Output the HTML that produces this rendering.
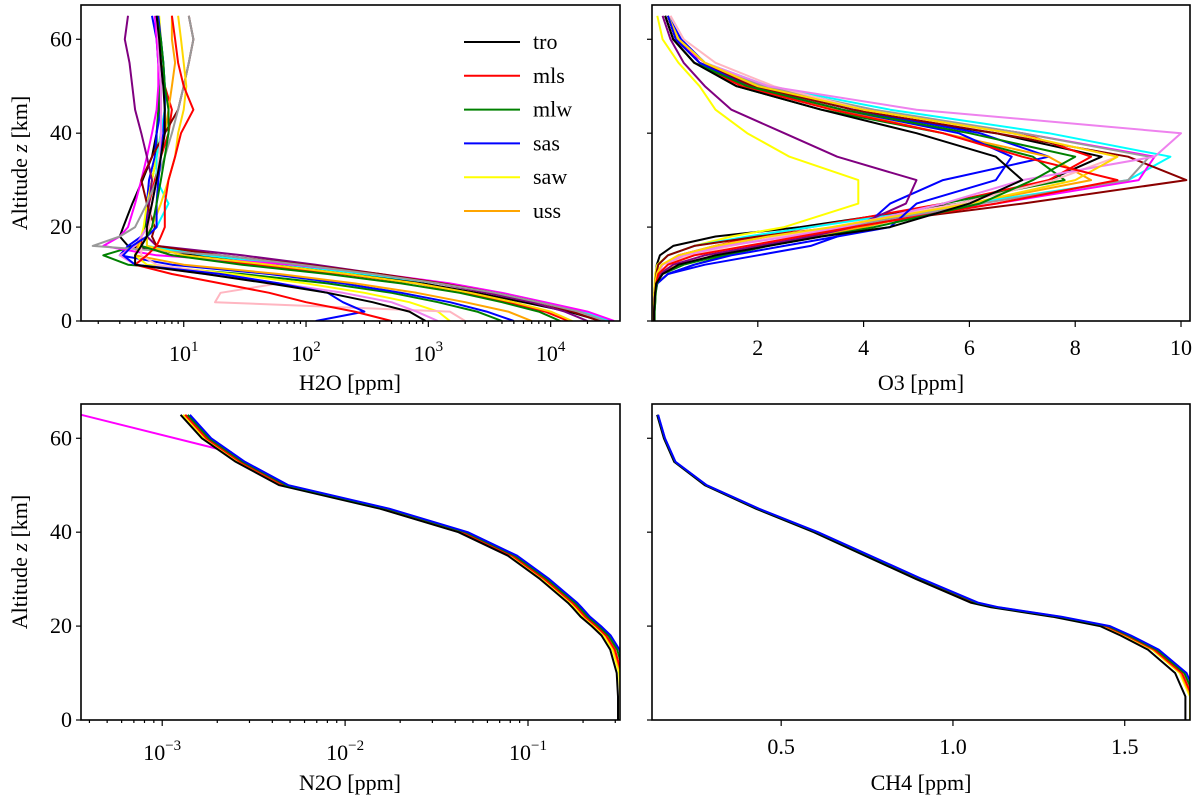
<!DOCTYPE html>
<html><head><meta charset="utf-8"><style>
html,body{margin:0;padding:0;background:#fff}
svg{display:block}
text{font-family:"Liberation Serif",serif;fill:#000}
</style></head><body>
<svg id="chart" width="1200" height="806"></svg>
<script>
const zLev=[0,2,4,6,8,10,12,14,16,18,20,25,30,35,40,45,50,55,60,65];
const h2oColors=["#000000","#ff0000","#008000","#0000ff","#ffff00","#ffa500","#00ffff","#ff00ff","#800080","#8b0000","#999999","#ffb6c1","#ee82ee","#ffd700","#0000ff","#ff0000","#008000","#000000"];
const h2oSeries=[
[26000,14000,6000,2500,900,250,60,12,3.5,3,3.2,3.8,4.6,5.5,6,6.3,6.5,6.5,6.4,6],
[14000,9000,4500,2000,800,200,40,8,4.5,4.5,4.8,5.2,5.8,6.5,7.5,8,7,6.5,6.4,6.2],
[4000,2500,1200,500,150,30,3.5,2.2,4,4.5,4.8,5,5.5,6,6,6.2,6.3,6.3,6.2,6],
[5000,3000,1500,600,200,50,8,3,3.5,4.5,5,5,5.2,5.8,6,6.5,6.5,6.2,6,5.5],
[1500,1200,700,300,100,25,5,4,4.3,4.5,4.7,5,5.5,6,6.5,7,7,6.8,6.5,6.3],
[7000,4500,2000,800,250,60,10,4,4.2,4.5,5,5.5,6,6.5,7,7.5,8,8.5,8,8],
[30000,18000,8000,3500,1200,300,70,15,5,5,6,7.5,6,6,6.5,7,7,6.8,6.5,6],
[33000,20000,9000,4000,1500,400,80,6,2.2,3,3.5,4,4.5,5,5.5,6,6.2,6.2,6,5.8],
[20000,13000,7000,3000,1200,400,120,30,6,5,5,5.2,5.5,5,4.5,4,3.8,3.6,3.3,3.5],
[25000,15000,8000,3500,1300,400,100,20,6,5.5,5.8,5,4.5,5.5,7,9,10,11,12,11],
[28000,17000,8000,3500,1200,350,90,20,1.8,3,4,5,6,7,8,9,10,11,12,11],
[2000,1500,18,20,60,20,6,4.5,4.5,5,5.2,5.5,6,6.3,6.5,6.5,6.5,6.3,6.2,6],
[1200,800,500,200,60,15,4,3,4,4.5,5,5.5,6,6.5,6.5,6.5,6.5,6.3,6.2,6],
[15000,10000,5000,2200,800,220,50,10,5,5,5.5,6.5,7.5,8.5,9,10,10.5,10,9.5,9],
[120,300,200,150,60,20,4,3.2,3.8,5,6,6,6.2,6.5,6.8,7,7,6.8,6.5,6.2],
[500,250,100,50,20,8,4,5,6,6.5,7,7,7.5,8.5,9.5,12,10,9,8.5,8],
[12000,8000,4000,1800,600,150,30,8,4.5,5,5.5,6,6.5,7,7.5,7.5,7,6.8,6.5,6],
[950,700,350,150,50,15,4,4,4.5,5,5,5.5,6,6.5,7,7,6.8,6.5,6.3,6]];
const o3Colors=["#000000","#ff0000","#008000","#0000ff","#ffff00","#ffa500","#00ffff","#ff00ff","#800080","#8b0000","#999999","#ffb6c1","#ee82ee","#ffd700","#0000ff","#ff0000","#008000","#000000"];
const o3Series=[
[0.03,0.03,0.04,0.05,0.06,0.07,0.09,0.15,0.4,1.2,2.8,5.8,7.5,8.5,6.5,3.5,1.8,0.9,0.5,0.3],
[0.04,0.04,0.05,0.06,0.07,0.1,0.2,0.5,1.2,2,3,5.5,7.5,8.3,7,4,2,1,0.5,0.3],
[0.05,0.05,0.06,0.07,0.1,0.3,0.8,1.4,2.2,3,3.8,5.5,7.8,7.2,5.5,3.2,1.6,0.8,0.4,0.25],
[0.03,0.02,0.03,0.04,0.1,0.3,1.0,2,3,3.5,4,4.5,5.5,7.5,6.2,3.8,2,1,0.55,0.3],
[0.03,0.03,0.03,0.04,0.05,0.06,0.1,0.3,0.8,1.5,2.5,3.9,3.9,2.6,1.8,1.2,0.9,0.5,0.2,0.1],
[0.03,0.03,0.04,0.05,0.07,0.15,0.5,1.2,2,3,4,6,8.3,7.5,5.5,3.5,1.8,0.9,0.45,0.3],
[0.03,0.03,0.04,0.05,0.06,0.08,0.12,0.3,0.8,1.8,3,6,9,9.8,7.5,4.5,2.2,1,0.5,0.3],
[0.04,0.04,0.04,0.05,0.07,0.1,0.2,0.5,1.2,2.2,3.5,6.5,9.2,9.5,7,4,2,1,0.4,0.25],
[0.04,0.04,0.05,0.06,0.08,0.15,0.4,1,2,3,3.8,4.8,5,3.5,2.5,1.5,1,0.6,0.35,0.2],
[0.03,0.03,0.04,0.05,0.06,0.08,0.12,0.3,0.8,2,3.5,7,10.1,9,6.5,3.8,1.9,0.9,0.45,0.3],
[0.04,0.04,0.05,0.06,0.08,0.12,0.3,0.6,1.4,2.5,3.6,6.2,9,9.4,7,4.2,2.1,1,0.5,0.3],
[0.03,0.03,0.04,0.05,0.07,0.1,0.3,0.7,1.5,2.4,3.4,5.8,7.6,8.8,6.8,4,2.3,1.2,0.6,0.35],
[0.03,0.03,0.04,0.05,0.07,0.1,0.2,0.6,1.4,2.6,3.6,5.5,7,9.5,10,5,2.2,1,0.5,0.3],
[0.03,0.03,0.04,0.05,0.06,0.09,0.18,0.5,1.2,2.2,3.4,6,8,8.8,6.8,4,2,1,0.5,0.3],
[0.04,0.04,0.05,0.06,0.1,0.3,0.8,1.5,2.5,3.5,4.5,5,6.5,6.8,5.8,3.6,1.8,0.9,0.45,0.3],
[0.04,0.04,0.05,0.06,0.08,0.12,0.3,0.8,1.8,2.8,3.8,6.5,8.8,7,5.5,3.4,1.7,0.8,0.4,0.25],
[0.05,0.05,0.06,0.07,0.09,0.2,0.6,1.3,2.2,3.2,4.2,6.2,7.2,8,6,3.6,1.8,0.8,0.4,0.25],
[0.04,0.04,0.05,0.06,0.08,0.2,0.5,1.2,2.2,3.2,4.5,6,7,6.5,5,3.2,1.6,0.8,0.4,0.25]];
const legendLabels=["tro","mls","mlw","sas","saw","uss"];
const legendColors=["#000000","#ff0000","#008000","#0000ff","#ffff00","#ffa500"];
const traceOrder=[4,5,1,0,2,3];
const traceZ=[0,5,10,15,18,20,22,24,25,30,35,40,45,50,55,60,65];
const ch4Base=[1.69,1.69,1.66,1.58,1.5,1.44,1.3,1.12,1.06,0.9,0.75,0.6,0.43,0.28,0.19,0.16,0.14];
const ch4Scale=[0.992,1.004,1.008,1.012,1.0,1.002];
const n2oBase=[0.32,0.32,0.315,0.29,0.26,0.23,0.2,0.18,0.17,0.12,0.08,0.043,0.016,0.0045,0.0026,0.0017,0.0013];
const n2oScale=[0.97,1.03,1.06,1.09,1.0,1.02];
const n2oOutlierZ=[57,65];
const n2oOutlierX=[0.0024,0.00036];
const yTicks=[0,20,40,60];
const h2oTicks=[1,2,3,4];
const o3Ticks=[2,4,6,8,10];
const n2oTicks=[-3,-2,-1];
const ch4Ticks=[0.5,1.0,1.5];

const NS="http://www.w3.org/2000/svg";
const svg=document.getElementById('chart');
function mk(tag,attrs,parent){const e=document.createElementNS(NS,tag);for(const k in attrs)e.setAttribute(k,attrs[k]);(parent||svg).appendChild(e);return e;}
const panels={
 tl:{x0:81,x1:620,y0:5,y1:321},tr:{x0:652,x1:1190,y0:5,y1:321},
 bl:{x0:81,x1:620,y0:404,y1:720},br:{x0:652,x1:1190,y0:404,y1:720}};
const zMax=67.3;
function yScale(p){return z=>p.y1-(z/zMax)*(p.y1-p.y0);}
function logScale(p,lmin,lmax){return v=>p.x0+(Math.log10(v)-lmin)/(lmax-lmin)*(p.x1-p.x0);}
function linScale(p,vmin,vmax){return v=>p.x0+(v-vmin)/(vmax-vmin)*(p.x1-p.x0);}
const sx={tl:logScale(panels.tl,0.16,4.567),tr:linScale(panels.tr,0,10.17),bl:logScale(panels.bl,-3.444,-0.497),br:linScale(panels.br,0.124,1.69)};
const sy={tl:yScale(panels.tl),tr:yScale(panels.tr),bl:yScale(panels.bl),br:yScale(panels.br)};

function clip(id,p){const d=mk('defs',{});const c=mk('clipPath',{id:id},d);mk('rect',{x:p.x0,y:p.y0,width:p.x1-p.x0,height:p.y1-p.y0},c);}
Object.keys(panels).forEach(k=>clip('clip-'+k,panels[k]));

function drawLine(key,xs,zs,color,name){
 const pts=xs.map((v,i)=>sx[key](v).toFixed(1)+','+sy[key](zs[i]).toFixed(1)).join(' ');
 const pl=mk('polyline',{points:pts,fill:'none',stroke:color,'stroke-width':2,'stroke-linejoin':'round','clip-path':'url(#clip-'+key+')'});
 
 
}
h2oSeries.forEach((s,i)=>drawLine('tl',s,zLev,h2oColors[i],'h2o-profile-'+i));
o3Series.forEach((s,i)=>drawLine('tr',s,zLev,o3Colors[i],'o3-profile-'+i));
drawLine('bl',n2oOutlierX,n2oOutlierZ,'#ff00ff','n2o-outlier');
traceOrder.forEach(i=>{drawLine('bl',n2oBase.map(v=>v*n2oScale[i]),traceZ,legendColors[i],'n2o-profile-'+legendLabels[i]);});
traceOrder.forEach(i=>{drawLine('br',ch4Base.map(v=>v*ch4Scale[i]),traceZ,legendColors[i],'ch4-profile-'+legendLabels[i]);});

function frame(key,name){const p=panels[key];const r=mk('rect',{x:p.x0,y:p.y0,width:p.x1-p.x0,height:p.y1-p.y0,fill:'none',stroke:'#000','stroke-width':1.6});
 
 }
function yAxis(key,labels){const p=panels[key];yTicks.forEach(t=>{const y=sy[key](t);mk('line',{x1:p.x0-5,x2:p.x0,y1:y,y2:y,stroke:'#000','stroke-width':1.2});
 if(labels){const tx=mk('text',{x:p.x0-9,y:y+7,'text-anchor':'end','font-size':22});tx.textContent=t;
 
 }});}
function xTick(key,x,len){const p=panels[key];mk('line',{x1:x,x2:x,y1:p.y1,y2:p.y1+len,stroke:'#000','stroke-width':1.2});}
function xLabel(key,x,base,exp){const p=panels[key];const tx=mk('text',{x:x,y:p.y1+(exp===undefined?34:40),'text-anchor':'middle','font-size':22});
 if(exp===undefined){tx.textContent=base;}else{tx.textContent=base;const ts=mk('tspan',{dy:-10,'font-size':15},tx);ts.textContent=exp;}
 
 }
function minorLog(key,lmin,lmax){for(let d=Math.floor(lmin);d<=Math.ceil(lmax);d++){for(let m=2;m<=9;m++){const l=d+Math.log10(m);if(l>lmin&&l<lmax)xTick(key,sx[key](Math.pow(10,l)),3);}}}
['tl','tr','bl','br'].forEach(k=>frame(k,'panel-frame-'+k));
yAxis('tl',true);yAxis('tr',false);yAxis('bl',true);yAxis('br',false);
h2oTicks.forEach(e=>{const x=sx.tl(Math.pow(10,e));xTick('tl',x,6);xLabel('tl',x,'10',String(e));});
minorLog('tl',0.16,4.567);
o3Ticks.forEach(t=>{const x=sx.tr(t);xTick('tr',x,6);xLabel('tr',x,String(t));});
n2oTicks.forEach(e=>{const x=sx.bl(Math.pow(10,e));xTick('bl',x,6);xLabel('bl',x,'10','\u2212'+(-e));});
minorLog('bl',-3.444,-0.497);
ch4Ticks.forEach(t=>{const x=sx.br(t);xTick('br',x,6);xLabel('br',x,t.toFixed(1));});

function title(x,y,txt,name){const t=mk('text',{x:x,y:y,'text-anchor':'middle','font-size':22});t.textContent=txt;
 
 }
title(350,390,'H2O [ppm]','x-axis-title-h2o');
title(921,390,'O3 [ppm]','x-axis-title-o3');
title(350,790,'N2O [ppm]','x-axis-title-n2o');
title(921,790,'CH4 [ppm]','x-axis-title-ch4');
[163,562].forEach((cy,i)=>{const t=mk('text',{x:0,y:0,'text-anchor':'middle','font-size':22,transform:'translate(27,'+cy+') rotate(-90)'});
 t.textContent='Altitude ';const it=mk('tspan',{'font-style':'italic'},t);it.textContent='z';const r=mk('tspan',{},t);r.textContent=' [km]';
 
 });

legendLabels.forEach((lab,i)=>{const y=42+i*33.8;const g=mk('g',{});
 
 
 mk('line',{x1:464,x2:520,y1:y,y2:y,stroke:legendColors[i],'stroke-width':2},g);
 const t=mk('text',{x:533,y:y+7,'font-size':22},g);t.textContent=lab;});
</script>
</body></html>
